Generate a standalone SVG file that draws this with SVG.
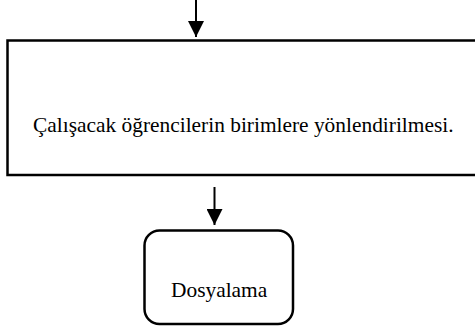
<svg xmlns="http://www.w3.org/2000/svg" width="475" height="331" viewBox="0 0 475 331">
<style>
.box{fill:#fff;stroke:#000;stroke-width:2.5}
.conn{stroke:#000;stroke-width:2;fill:none}
.lbl{font-family:"Liberation Serif","Times New Roman",serif;font-size:21.4px;fill:#000}
</style>
<defs>
<marker id="ah" markerUnits="userSpaceOnUse" markerWidth="17" markerHeight="16" refX="16" refY="8" orient="auto" viewBox="0 0 17 16">
<path d="M0,0 L16,8 L0,16 Z" fill="#000"/>
</marker>
</defs>
<rect width="475" height="331" fill="#fff"/>
<g id="connectors">
<line class="conn" x1="196" y1="0" x2="196" y2="37" marker-end="url(#ah)"/>
<line class="conn" x1="214.5" y1="187" x2="214.5" y2="225" marker-end="url(#ah)"/>
</g>
<g id="node-process">
<rect class="box" x="7.5" y="40.5" width="480" height="134.5"/>
<text class="lbl" x="33" y="131.5">Çalışacak öğrencilerin birimlere yönlendirilmesi.</text>
</g>
<g id="node-dosyalama">
<rect class="box" x="144.5" y="230.5" width="148.5" height="93.5" rx="15" ry="15"/>
<text class="lbl" x="171" y="296.5">Dosyalama</text>
</g>
</svg>
